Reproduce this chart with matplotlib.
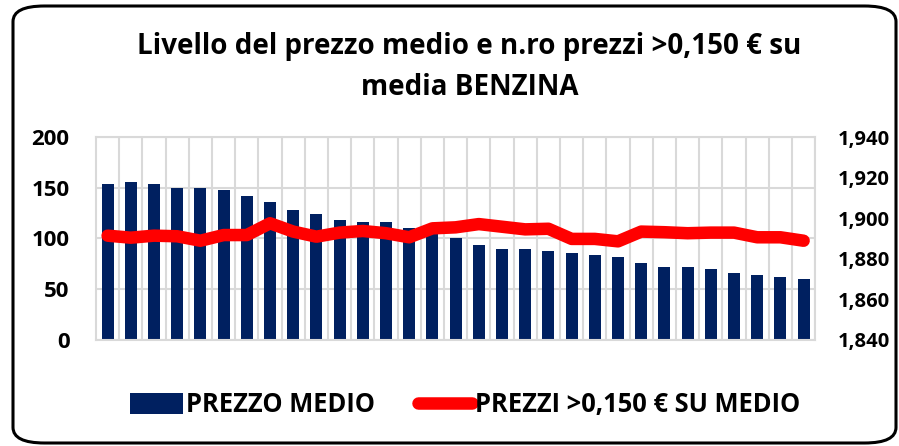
import numpy as np
import matplotlib.pyplot as plt
from matplotlib.patches import FancyBboxPatch
from matplotlib.ticker import FuncFormatter

plt.rcParams['font.family'] = ['Open Sans', 'DejaVu Sans']
plt.rcParams['font.weight'] = 'bold'

# valori
prezzo_medio = [154, 156, 154, 150, 150, 148, 142, 136, 128, 124, 118, 116, 116, 110, 105,
                100, 94, 90, 90, 88, 86, 84, 82, 76, 72, 72, 70, 66, 64, 62, 60]
prezzi_sopra = [1.8914, 1.8904, 1.8914, 1.8911, 1.8889, 1.8917, 1.8917, 1.8975, 1.8934, 1.8909,
                1.8929, 1.8937, 1.8926, 1.8906, 1.8950, 1.8955, 1.8971, 1.8958, 1.8945, 1.8948,
                1.8898, 1.8898, 1.8886, 1.8934, 1.8931, 1.8926, 1.8929, 1.8929, 1.8906, 1.8906,
                1.8889]
left_ticks = [0, 50, 100, 150, 200]
right_ticks = [1.84, 1.86, 1.88, 1.90, 1.92, 1.94]

x = np.arange(len(prezzo_medio))

fig = plt.figure(figsize=(8.99, 4.46), dpi=100)
ax = fig.add_axes([0.1068, 0.2377, 0.80, 0.4551])

ax.bar(x, prezzo_medio, width=0.52, color='#002060', label='PREZZO MEDIO', zorder=2)
ax.set_xlim(-0.5, len(x) - 0.5)
ax.set_ylim(0, 200)
ax.set_yticks(left_ticks)
ax.set_xticks(x + 0.5, minor=False)
ax.set_xticklabels([])
ax.tick_params(axis='x', length=0)
ax.tick_params(axis='y', length=0, labelsize=16, pad=19)
ax.grid(True, color='#d9d9d9', linewidth=1.5, zorder=0)
for s in ax.spines.values():
    s.set_color('#d9d9d9')
    s.set_linewidth(1.5)

ax2 = ax.twinx()
ax2.plot(x, prezzi_sopra, color='#ff0000', linewidth=9, solid_capstyle='round',
         solid_joinstyle='round', label='PREZZI >0,150 € SU MEDIO', zorder=3)
ax2.set_ylim(1.84, 1.94)
ax2.set_yticks(right_ticks)
ax2.yaxis.set_major_formatter(FuncFormatter(lambda v, p: f'{v:.3f}'.replace('.', ',')))
ax2.tick_params(axis='y', length=0, labelsize=14.5, pad=16)
for s in ax2.spines.values():
    s.set_visible(False)

fig.text(0.522, 0.895, 'Livello del prezzo medio e n.ro prezzi >0,150 € su',
         ha='center', va='center', fontsize=20, fontweight='bold')
fig.text(0.522, 0.803, 'media BENZINA', ha='center', va='center', fontsize=20, fontweight='bold')

h1, l1 = ax.get_legend_handles_labels()
h2, l2 = ax2.get_legend_handles_labels()
fig.legend(h1 + h2, l1 + l2, loc='center', bbox_to_anchor=(0.517, 0.092), ncol=2,
           frameon=False, handlelength=2.1, handleheight=0.85, handletextpad=0.1,
           columnspacing=1.7, prop={'weight': 'bold', 'size': 18.4})

border = FancyBboxPatch((13 / 899, 3 / 446), 883 / 899, 437 / 446,
                        boxstyle='round,pad=0,rounding_size=0.035',
                        transform=fig.transFigure, fill=False,
                        edgecolor='black', linewidth=2.2)
fig.patches.append(border)

fig.savefig('out.png', dpi=100)
